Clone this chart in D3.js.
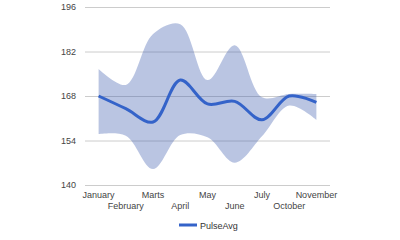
<!DOCTYPE html>
<html>
<head>
<meta charset="utf-8">
<script src="https://cdn.jsdelivr.net/npm/d3@7"></script>
<style>
  body { margin: 0; background: #fff; }
</style>
</head>
<body>
<div id="chart"></div>
<script>
var months = ['January', 'February', 'Marts', 'April', 'May', 'June', 'July', 'October', 'November'];
var pulseAvg = [168, 164, 159.8, 173, 165.5, 166.3, 160.5, 168, 166];
var pulseHigh = [176.5, 171.5, 187.5, 190.6, 173, 184, 167.6, 168.6, 168.6];
var pulseLow = [156, 155.5, 145, 155.7, 155, 147, 155.3, 165, 160.5];
var yTicks = [140, 154, 168, 182, 196];

var width = 400, height = 240;
var margin = {top: 7, right: 70, bottom: 55, left: 85};

var svg = d3.select('#chart').append('svg')
    .attr('width', width)
    .attr('height', height)
    .style('font', '9px Arial, "Liberation Sans", sans-serif');

var x = d3.scaleBand()
    .domain(months)
    .range([margin.left, width - margin.right]);

var y = d3.scaleLinear()
    .domain([140, 196])
    .range([height - margin.bottom, margin.top]);

var cx = function(d, i) { return x(months[i]) + x.bandwidth() / 2; };

// grid
var yAxis = svg.append('g')
    .attr('transform', 'translate(' + margin.left + ',0)')
    .call(d3.axisLeft(y).tickValues(yTicks).tickSize(-(width - margin.left - margin.right)).tickPadding(9));
yAxis.select('.domain').remove();
yAxis.selectAll('line').attr('stroke', '#cccccc');
yAxis.selectAll('text').attr('fill', '#444').style('font-size', '9px');

// interval band
var band = d3.area()
    .x(cx)
    .y0(function(d, i) { return y(pulseLow[i]); })
    .y1(function(d, i) { return y(pulseHigh[i]); })
    .curve(d3.curveCatmullRom.alpha(0.5));

svg.append('path')
    .datum(months)
    .attr('d', band)
    .attr('fill', '#3f5fae')
    .attr('fill-opacity', 0.36);

var line = d3.line()
    .x(cx)
    .y(function(d) { return y(d); })
    .curve(d3.curveCatmullRom.alpha(0.5));

svg.append('path')
    .datum(pulseAvg)
    .attr('d', line)
    .attr('fill', 'none')
    .attr('stroke', '#3463c9')
    .attr('stroke-width', 3);

// month labels, staggered in two rows
svg.selectAll('.month')
    .data(months)
    .enter().append('text')
        .attr('class', 'month')
        .attr('x', cx)
        .attr('y', function(d, i) { return i % 2 ? 209 : 198; })
        .attr('text-anchor', 'middle')
        .attr('fill', '#444')
        .text(function(d) { return d; });

// legend
var legend = svg.append('g').attr('transform', 'translate(179,225)');
legend.append('line')
    .attr('x1', 0).attr('x2', 18)
    .attr('stroke', '#3463c9')
    .attr('stroke-width', 3);
legend.append('text')
    .attr('x', 21)
    .attr('y', 3.5)
    .attr('fill', '#333')
    .text('PulseAvg');
</script>
</body>
</html>
